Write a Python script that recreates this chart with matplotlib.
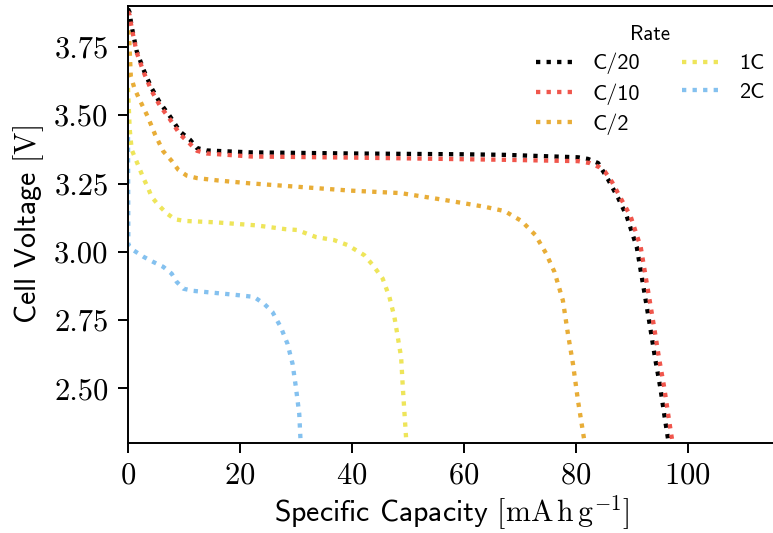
import matplotlib
matplotlib.use("Agg")
import matplotlib.pyplot as plt

plt.rcParams["font.family"] = "sans-serif"
plt.rcParams["font.sans-serif"] = ["cmss10"]
plt.rcParams["mathtext.fontset"] = "cm"
plt.rcParams["axes.unicode_minus"] = False
plt.rcParams["axes.formatter.use_mathtext"] = True

# discharge curves, capacity [mAh/g] vs voltage [V]
c20_cap = [0, 0.3, 0.5, 0.8, 1.55, 2.75, 4.2, 5.7, 7.5, 9.3, 11.1, 12.3, 14.1, 21.9, 40, 60, 67.3,
           80.4, 82.2, 84.0, 85.8, 87.6, 89.1, 90.3, 90.9, 91.8, 92.4, 93.3, 94.2, 95.1, 95.9, 96.6, 96.8]
c20_volt = [3.89, 3.876, 3.845, 3.81, 3.735, 3.668, 3.60, 3.546, 3.496, 3.44, 3.41, 3.38, 3.371, 3.364,
            3.36, 3.357, 3.355, 3.346, 3.34, 3.325, 3.264, 3.196, 3.131, 3.055, 3.018, 2.908, 2.835,
            2.724, 2.608, 2.504, 2.393, 2.30, 2.28]

c10_cap = [0, 0.3, 0.5, 0.8, 1.55, 2.75, 4.2, 5.7, 7.5, 9.3, 11.1, 12.3, 14.1, 22, 40, 67, 80.4,
           82.5, 84.2, 85.2, 86.5, 88.2, 89.8, 91.0, 91.6, 92.5, 93.1, 94.0, 94.9, 95.8, 96.6, 97.3, 97.5]
c10_volt = [3.88, 3.866, 3.838, 3.805, 3.73, 3.66, 3.59, 3.535, 3.485, 3.43, 3.395, 3.37, 3.36, 3.349,
            3.345, 3.337, 3.332, 3.325, 3.31, 3.294, 3.255, 3.19, 3.13, 3.055, 3.018, 2.908, 2.835,
            2.724, 2.608, 2.504, 2.393, 2.30, 2.28]

c2_cap = [0, 0.2, 0.36, 0.5, 1.13, 1.9, 3.5, 4.84, 6.3, 7.8, 9.0, 10.5, 12.3, 16.2, 21.6, 39.8, 48.7,
          56.5, 63.7, 67.3, 70.3, 72.8, 74.7, 76.2, 77.7, 78.6, 79.5, 80.4, 81.6, 81.8]
c2_volt = [3.81, 3.79, 3.71, 3.643, 3.60, 3.564, 3.496, 3.429, 3.368, 3.333, 3.30, 3.279, 3.27, 3.261,
           3.251, 3.224, 3.215, 3.19, 3.165, 3.149, 3.113, 3.061, 2.994, 2.926, 2.822, 2.70, 2.59,
           2.455, 2.30, 2.28]

c1_cap = [0, 0.3, 0.66, 1.55, 2.15, 2.75, 3.6, 4.2, 5.4, 6.9, 8.4, 10.2, 15.6, 22.8, 28.1, 30.2, 33.6,
          36.8, 39.2, 42.2, 43.8, 45.5, 46.7, 47.6, 48.2, 48.8, 49.1, 49.7, 49.8]
c1_volt = [3.60, 3.45, 3.374, 3.33, 3.30, 3.27, 3.233, 3.202, 3.172, 3.141, 3.119, 3.113, 3.108, 3.097,
           3.083, 3.08, 3.054, 3.043, 3.025, 2.988, 2.95, 2.902, 2.835, 2.761, 2.688, 2.614, 2.504,
           2.314, 2.28]

c2c_cap = [0, 0.06, 0.95, 2.75, 4.5, 6.3, 7.8, 8.7, 9.9, 11.7, 15.3, 18.9, 22.5, 24.3, 25.8, 27.3,
           28.5, 29.4, 30.0, 30.6, 30.8, 30.9]
c2c_volt = [3.42, 3.025, 3.006, 2.982, 2.963, 2.945, 2.92, 2.89, 2.865, 2.857, 2.85, 2.843, 2.835, 2.81,
            2.78, 2.724, 2.663, 2.59, 2.504, 2.406, 2.32, 2.28]

rate_labels = ["C/20", "C/10", "C/2", "1C", "2C"]
rate_colors = ["#000000", "#f0564c", "#e8ad37", "#eee55a", "#84c1ef"]
curves = [(c20_cap, c20_volt), (c10_cap, c10_volt), (c2_cap, c2_volt),
          (c1_cap, c1_volt), (c2c_cap, c2c_volt)]

fig = plt.figure(figsize=(7.73, 5.33), dpi=100)
ax = fig.add_axes([128 / 773, 1 - 443 / 533, 647 / 773, 437 / 533])

for (cap, volt), label, color in zip(curves, rate_labels, rate_colors):
    ax.plot(cap, volt, ls=(0, (1, 1.45)), lw=3.1, color=color, label=label)

ax.set_xlim(0, 115.6)
ax.set_ylim(2.3, 3.9)
ax.set_xticks([0, 20, 40, 60, 80, 100])
ax.set_yticks([2.50, 2.75, 3.00, 3.25, 3.50, 3.75])
ax.set_yticklabels(["2.50", "2.75", "3.00", "3.25", "3.50", "3.75"])
ax.tick_params(labelsize=22, width=1.4, length=7, pad=7)
for lab in ax.get_xticklabels() + ax.get_yticklabels():
    lab.set_fontfamily("cmr10")
for sp in ax.spines.values():
    sp.set_linewidth(1.4)

ax.set_xlabel(r"Specific Capacity $[\mathrm{mA\,h\,g^{-1}}]$", fontsize=21.5, labelpad=2)
ax.set_ylabel(r"Cell Voltage $[\mathrm{V}]$", fontsize=21.5, labelpad=6)

leg = ax.legend(ncol=2, title="Rate", loc="upper right", bbox_to_anchor=(0.997, 0.977),
                borderaxespad=0, frameon=False, fontsize=16, title_fontsize=15,
                handlelength=1.65, handletextpad=0.9, columnspacing=1.9, labelspacing=0.4)

fig.savefig("out.png", dpi=100)
